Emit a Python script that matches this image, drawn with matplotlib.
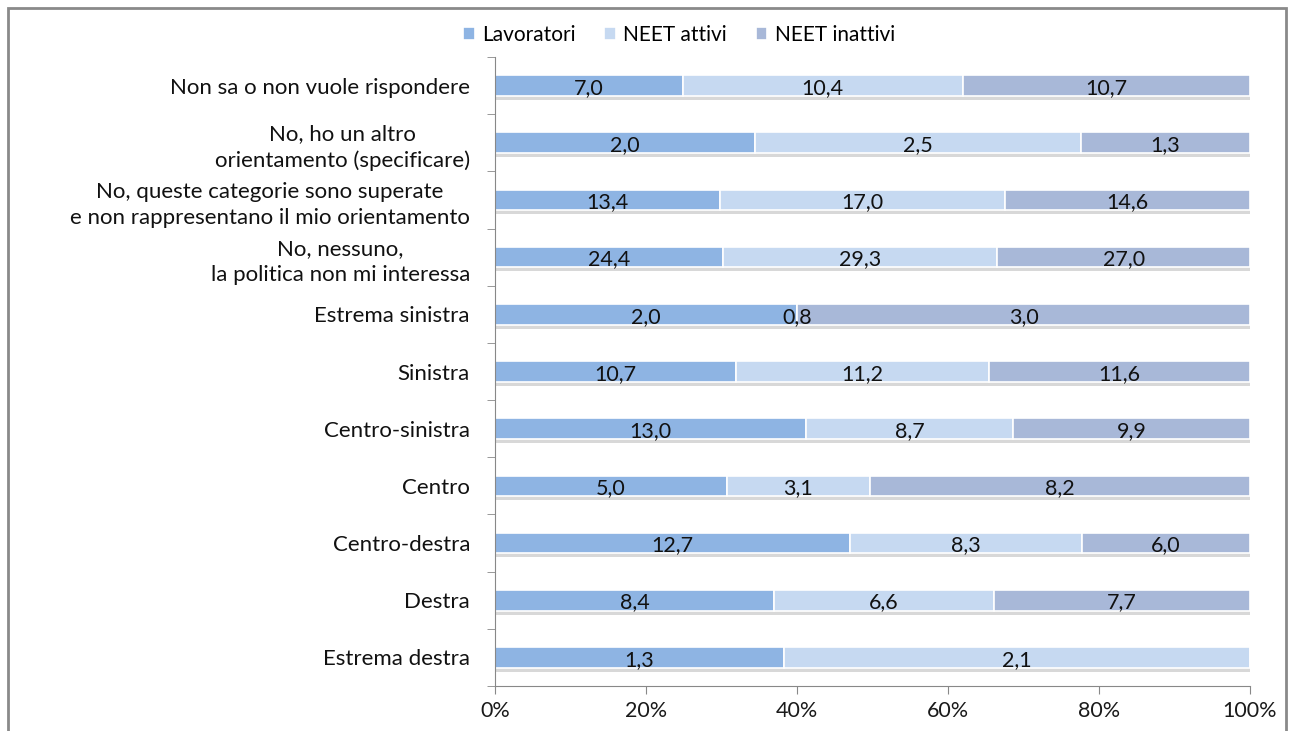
import matplotlib.pyplot as plt
import matplotlib.patches as patches
import numpy as np

plt.rcParams['font.family'] = ['Lato', 'DejaVu Sans']

# categorie dall'alto verso il basso
categorie = ['Non sa o non vuole rispondere',
             'No, ho un altro\norientamento (specificare)',
             'No, queste categorie sono superate\ne non rappresentano il mio orientamento',
             'No, nessuno,\nla politica non mi interessa',
             'Estrema sinistra', 'Sinistra', 'Centro-sinistra', 'Centro',
             'Centro-destra', 'Destra', 'Estrema destra']
lavoratori = [7.0, 2.0, 13.4, 24.4, 2.0, 10.7, 13.0, 5.0, 12.7, 8.4, 1.3]
neet_attivi = [10.4, 2.5, 17.0, 29.3, 0.8, 11.2, 8.7, 3.1, 8.3, 6.6, 2.1]
neet_inattivi = [10.7, 1.3, 14.6, 27.0, 3.0, 11.6, 9.9, 8.2, 6.0, 7.7, 0.0]
# nel grafico originale il segmento "0,8" di Estrema sinistra ha larghezza quasi nulla
neet_attivi_larghezza = [10.4, 2.5, 17.0, 29.3, 0.0, 11.2, 8.7, 3.1, 8.3, 6.6, 2.1]
serie = ['Lavoratori', 'NEET attivi', 'NEET inattivi']
colori = ['#8EB4E3', '#C6D9F1', '#A8B8D8']
xtick_labels = ['0%', '20%', '40%', '60%', '80%', '100%']

fig = plt.figure(figsize=(12.93, 7.31), dpi=100)
ax = fig.add_axes([495 / 1293, 1 - 686 / 731, 755 / 1293, 629 / 731])

n = len(categorie)
y = np.arange(n)[::-1]
lav = np.array(lavoratori)
att_w = np.array(neet_attivi_larghezza)
ina = np.array(neet_inattivi)
tot = lav + att_w + ina
quote = [lav / tot, att_w / tot, ina / tot]
valori = [lavoratori, neet_attivi, neet_inattivi]

h = 0.36
left = np.zeros(n)
for k in range(3):
    w = quote[k]
    # ombra sotto le barre
    for i in range(n):
        if valori[k][i] > 0:
            ax.add_patch(patches.Rectangle((left[i], y[i] - h / 2 - 0.07), w[i], 0.07,
                                           facecolor='#909090', alpha=0.35, edgecolor='none', zorder=1))
    ax.barh(y, w, left=left, height=h, color=colori[k], edgecolor='white',
            linewidth=1.2, label=serie[k], zorder=2)
    for i in range(n):
        if valori[k][i] > 0:
            ax.text(left[i] + w[i] / 2, y[i] - 0.04, ('%.1f' % valori[k][i]).replace('.', ','),
                    ha='center', va='center', fontsize=15.5, color='#111111', zorder=3)
    left = left + w

ax.set_xlim(0, 1)
ax.set_ylim(-0.5, n - 0.5)
ax.set_xticks(np.linspace(0, 1, 6))
ax.set_xticklabels(xtick_labels, fontsize=15.5, color='#1a1a1a')
ax.set_yticks(y)
ax.set_yticklabels(categorie, fontsize=16, color='#111111', multialignment='center',
                   linespacing=1.35)
ax.set_yticks(np.arange(n + 1) - 0.5, minor=True)
ax.tick_params(axis='y', which='major', length=0, pad=18)
ax.tick_params(axis='y', which='minor', length=6, color='#888888')
ax.tick_params(axis='x', length=6, color='#888888', pad=5)
for s in ['top', 'right']:
    ax.spines[s].set_visible(False)
ax.spines['left'].set_color('#888888')
ax.spines['bottom'].set_color('#888888')

ax.legend(loc='upper center', ncol=3, frameon=False, fontsize=15, handlelength=0.55,
          handleheight=0.55, handletextpad=0.35, columnspacing=1.4)
leg = ax.get_legend()
leg.set_bbox_to_anchor((679 / 1293, 1 - 6 / 731), transform=fig.transFigure)

# cornice grigia
fig.patches.append(patches.Rectangle((8 / 1293, -0.05), 1278 / 1293, 1.05 - 8 / 731,
                                     transform=fig.transFigure, fill=False,
                                     edgecolor='#8a8a8a', linewidth=2))

fig.savefig('out.png', dpi=100)
